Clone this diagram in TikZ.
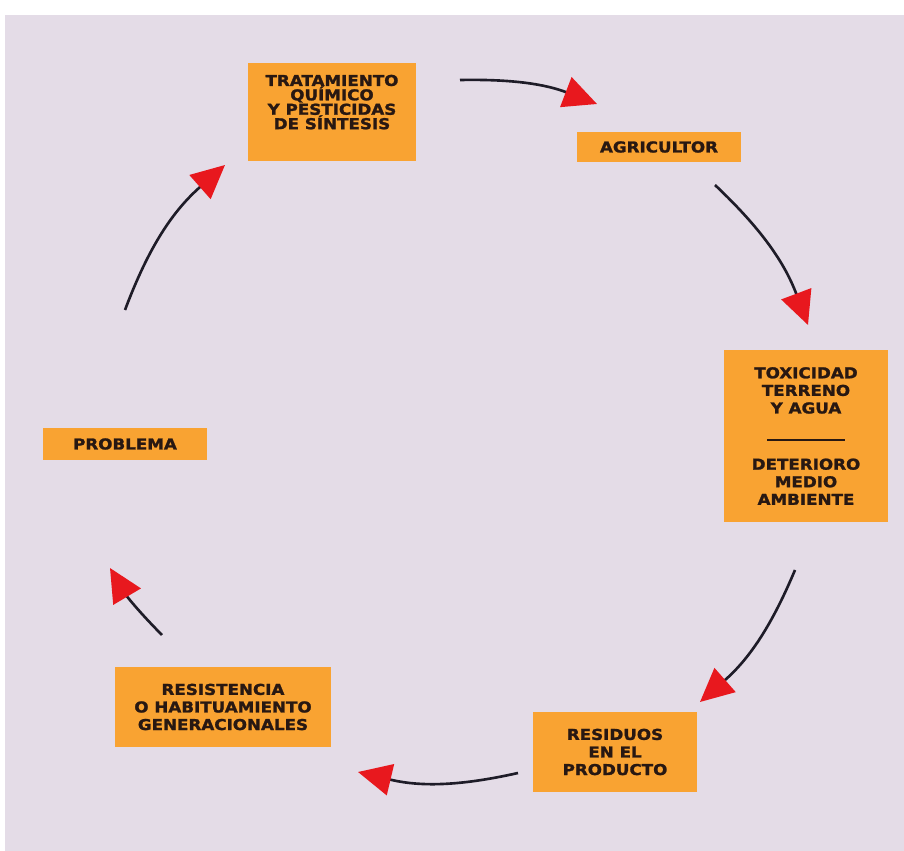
\documentclass[tikz,border=0pt]{standalone}
\usepackage{fontspec}
\usepackage{xcolor}
\usepackage{tikz}
\usetikzlibrary{arrows.meta}

\newfontfamily\boxfont{DejaVu Sans}[FakeStretch=1.12, BoldFeatures={FakeBold=1.6}]

\definecolor{paper}{RGB}{228,220,231}
\definecolor{boxorange}{RGB}{249,163,50}
\definecolor{boxtext}{RGB}{40,24,18}
\definecolor{tipred}{RGB}{232,24,30}
\definecolor{linedark}{RGB}{30,28,40}

\tikzset{
    stage/.style={fill=boxorange, text=boxtext, align=center, inner sep=0pt,
        font=\boxfont\bfseries\fontsize{8.5}{10}\selectfont},
    cyclearrow/.style={draw=linedark, line width=1.5pt,
        -{Triangle[color=tipred, length=19pt, width=18pt]}},
}

\begin{document}
\begin{tikzpicture}[x=0.02cm, y=-0.02cm]
    % paper
    \fill[white] (0, 0) rectangle (904, 851);
    \fill[paper] (5, 15) rectangle (904, 851);

    % stages of the cycle
    \node[stage, minimum width=3.36cm, minimum height=1.96cm,
        font=\boxfont\bfseries\fontsize{8.5}{8.2}\selectfont] (tratamiento) at (332, 112)
        {TRATAMIENTO\\QUÍMICO\\Y PESTICIDAS\\DE SÍNTESIS\\[3.2pt]~};
    \node[stage, minimum width=3.3cm, minimum height=0.6cm] (agricultor) at (659, 147) {AGRICULTOR};
    \node[stage, minimum width=3.28cm, minimum height=3.44cm] (toxicidad) at (806, 436)
        {TOXICIDAD\\TERRENO\\Y AGUA\\[5.5pt]\rule{44pt}{1.2pt}\\[6.5pt]DETERIORO\\MEDIO\\AMBIENTE};
    \node[stage, minimum width=3.28cm, minimum height=0.66cm] (problema) at (125, 444) {PROBLEMA};
    \node[stage, minimum width=4.32cm, minimum height=1.62cm] (resistencia) at (223, 707)
        {RESISTENCIA\\O HABITUAMIENTO\\GENERACIONALES};
    \node[stage, minimum width=3.28cm, minimum height=1.62cm] (residuos) at (615, 752)
        {RESIDUOS\\EN EL\\PRODUCTO};

    % arrow ends on the circle
    \coordinate (tratamiento-out) at (460, 80);
    \coordinate (agricultor-in) at (597, 104);
    \coordinate (agricultor-out) at (715, 185);
    \coordinate (toxicidad-in) at (808, 325);
    \coordinate (toxicidad-out) at (795, 570);
    \coordinate (residuos-in) at (700, 702);
    \coordinate (residuos-out) at (518, 773);
    \coordinate (resistencia-in) at (358, 772);
    \coordinate (resistencia-out) at (162, 635);
    \coordinate (problema-in) at (110, 568);
    \coordinate (problema-out) at (125, 310);
    \coordinate (tratamiento-in) at (225, 165);

    \draw[cyclearrow] (tratamiento-out) to[bend left=11] (agricultor-in);
    \draw[cyclearrow] (agricultor-out) to[bend left=13] (toxicidad-in);
    \draw[cyclearrow] (toxicidad-out) to[bend left=13] (residuos-in);
    \draw[cyclearrow] (residuos-out) to[bend left=13] (resistencia-in);
    \draw[cyclearrow] (resistencia-out) to[bend left=7] (problema-in);
    \draw[cyclearrow] (problema-out) to[bend left=14] (tratamiento-in);
\end{tikzpicture}
\end{document}
